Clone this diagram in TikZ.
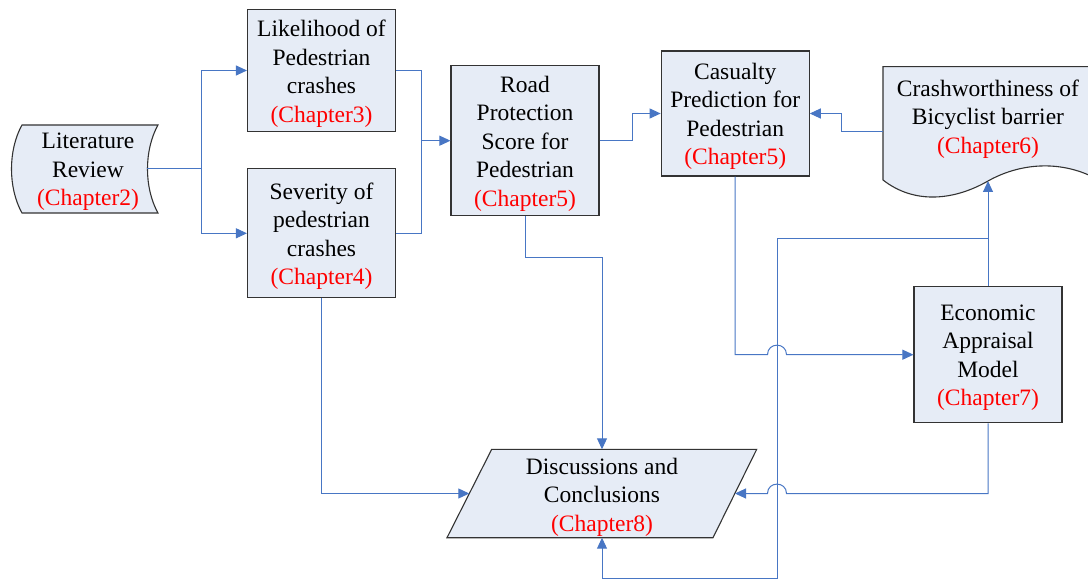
\documentclass[tikz,border=0pt]{standalone}
\usepackage{fontspec}
\setmainfont{Liberation Serif}
\usetikzlibrary{arrows.meta}
\definecolor{boxfill}{RGB}{230,236,246}
\definecolor{linec}{RGB}{72,118,196}
\definecolor{chapred}{RGB}{255,0,0}
\newcommand{\chap}[1]{\textcolor{chapred}{#1}}
\begin{document}
\begin{tikzpicture}[x=1pt,y=-1pt,
  box/.style={draw=black!80, line width=1.1pt, fill=boxfill, inner sep=0pt},
  txt/.style={inner sep=0pt, align=center, font=\fontsize{23.5}{28.5}\selectfont},
  shapebox/.style={draw=black!80, line width=1.1pt, fill=boxfill},
  conn/.style={draw=linec, line width=1pt, -{Triangle[length=11pt,width=10pt]}},
  plain/.style={draw=linec, line width=1pt}]
\useasboundingbox (0,0) rectangle (1088,580);

% Literature review (tape-like shape)
\draw[shapebox] (22,125) -- (158,125) .. controls (144,150) and (144,188) .. (158,213)
  -- (22,213) .. controls (8,188) and (8,150) .. (22,125) -- cycle;
\node[txt] (lit) at (88,172) {Literature\\Review\\\chap{(Chapter2)}};
\coordinate (litR) at (147,169);

% Boxes
\node[box, minimum width=148, minimum height=122] (lik) at (321.5,70.5) {};
\node[txt] (lik-t) at ([yshift=-3pt]lik.center) {Likelihood of\\Pedestrian\\crashes\\\chap{(Chapter3)}};
\node[box, minimum width=148, minimum height=128.7] (sev) at (321.5,233.3) {};
\node[txt] (sev-t) at ([yshift=-3pt]sev.center) {Severity of\\pedestrian\\crashes\\\chap{(Chapter4)}};
\node[box, minimum width=148, minimum height=150] (road) at (525,140.7) {};
\node[txt] (road-t) at ([yshift=-3pt]road.center) {Road\\Protection\\Score for\\Pedestrian\\\chap{(Chapter5)}};
\node[box, minimum width=148, minimum height=125] (cas) at (735.2,113.5) {};
\node[txt] (cas-t) at ([yshift=-3pt]cas.center) {Casualty\\Prediction for\\Pedestrian\\\chap{(Chapter5)}};
\node[box, minimum width=148, minimum height=136] (econ) at (988,354.7) {};
\node[txt] (econ-t) at ([yshift=-3pt]econ.center) {Economic\\Appraisal\\Model\\\chap{(Chapter7)}};

% Crashworthiness (document shape)
\draw[shapebox] (883,66.7) -- (1095,66.7) -- (1095,178)
  .. controls (1060,160) and (1020,163) .. (988,181)
  .. controls (955,200) and (915,205) .. (883,180) -- cycle;
\node[txt] (crash) at (988,119) {Crashworthiness of\\Bicyclist barrier\\\chap{(Chapter6)}};
\coordinate (crashL) at (883,131.7);
\coordinate (crashB) at (988,181);

% Discussions (parallelogram)
\draw[shapebox] (491.7,449.3) -- (756.7,449.3) -- (713,537.7) -- (447,537.7) -- cycle;
\node[txt] (disc) at (602,497) {Discussions and\\Conclusions\\\chap{(Chapter8)}};
\coordinate (discT) at (602,449.3);
\coordinate (discB) at (602,537.7);
\coordinate (discL) at (469.3,493.5);
\coordinate (discR) at (735,493.5);

% Junctions
\coordinate (j0) at (201,169);
\coordinate (j2) at (421.7,140.7);
\coordinate (j3) at (988,239);

% Connectors
\draw[plain] (litR) -- (j0);
\draw[conn] (j0) |- (lik.west);
\draw[conn] (j0) |- (sev.west);
\draw[plain] (lik.east) -| (j2);
\draw[plain] (sev.east) -| (j2);
\draw[conn] (j2) -- (road.west);
\draw[conn] (road.east) -- (632.3,140.7) |- (cas.west);
\draw[conn] (crashL) -- (841,131.7) |- (cas.east);
\draw[conn] (road.south) -- (525,258) -| (discT);
\draw[conn] (sev.south) |- (discL);
\draw[conn] (cas.south) |- (767.5,354.7) .. controls (767.5,342) and (786.5,342) .. (786.5,354.7) -- (econ.west);
\draw[conn] (econ.north) -- (crashB);
\draw[conn] (j3) -- (777,239) -- (777,578.3) -| (discB);
\draw[conn] (econ.south) |- (786.5,493.5) .. controls (786.5,481) and (767.5,481) .. (767.5,493.5) -- (discR);
\end{tikzpicture}
\end{document}
